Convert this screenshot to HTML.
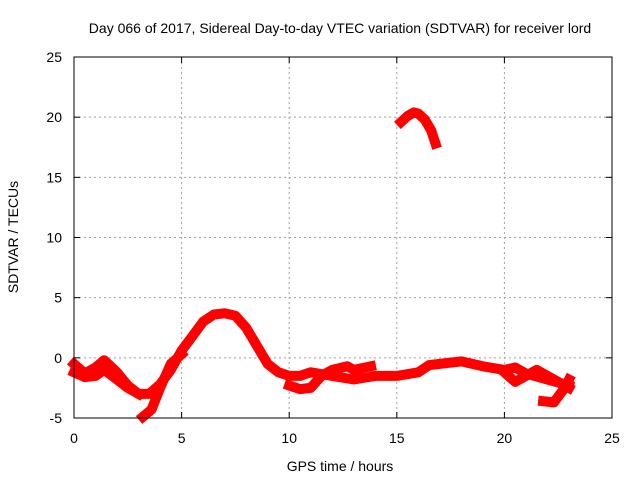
<!DOCTYPE html>
<html><head><meta charset="utf-8"><style>
body{margin:0;background:#fff}
svg text{font-family:"Liberation Sans",sans-serif;font-size:14px;fill:#000}
</style></head><body>
<svg id="chart" width="640" height="480">
<text x="340" y="33" text-anchor="middle">Day 066 of 2017, Sidereal Day-to-day VTEC variation (SDTVAR) for receiver lord</text>
<text x="340" y="471" text-anchor="middle">GPS time / hours</text>
<text transform="translate(18,237) rotate(-90)" text-anchor="middle">SDTVAR / TECUs</text>
<g id="grid"></g><g id="ticks"></g><g id="series"></g>
<rect x="74" y="57" width="538" height="361" fill="none" stroke="#000" stroke-width="1"/>
</svg>
<script>
const xTicks=[0,5,10,15,20,25];
const yTicks=[-5,0,5,10,15,20,25];
const traceMainX=[0,0.5,1,1.4,2,2.5,3,3.5,4,4.5,5,5.5,6,6.5,7,7.5,8,8.5,9,9.5,10,10.5,11,12,13,14,15,16,16.5,17,18,19,20,20.5,21,22,23];
const traceMainY=[-0.5,-1.3,-0.8,-0.2,-1.2,-2.3,-3.0,-3.0,-2.2,-1.0,0.6,1.8,3.0,3.6,3.7,3.5,2.5,1.0,-0.5,-1.2,-1.5,-1.5,-1.2,-1.5,-1.8,-1.5,-1.5,-1.2,-0.6,-0.5,-0.3,-0.7,-1.0,-0.8,-1.3,-1.8,-2.3];
const traceBX=[0,0.5,1,1.4,2,2.5,3];
const traceBY=[-1.2,-1.6,-1.5,-1.0,-1.8,-2.5,-3.0];
const traceCX=[3.2,3.6,4,4.5,5];
const traceCY=[-4.9,-4.3,-2.5,-0.5,0.3];
const traceDX=[10,10.5,11,11.5,12,12.7,13,13.8];
const traceDY=[-2.3,-2.6,-2.5,-1.5,-1.0,-0.7,-1.0,-0.7];
const traceEX=[20,20.5,21,21.5,22,23];
const traceEY=[-1.2,-2.0,-1.5,-1.0,-1.5,-2.5];
const traceFX=[21.8,22.3,22.8,23];
const traceFY=[-3.6,-3.7,-2.5,-1.8];
const traceGX=[15.2,15.5,15.8,16,16.3,16.6,16.8];
const traceGY=[19.6,20.1,20.4,20.3,19.8,18.9,17.8];
const X0=74,X1=612,Y0=418,Y1=57;
const sx=v=>X0+(v-0)/25*(X1-X0);
const sy=v=>Y0-(v+5)/30*(Y0-Y1);
const NS="http://www.w3.org/2000/svg";
const grid=document.getElementById('grid'),ticks=document.getElementById('ticks'),ser=document.getElementById('series');
function mk(tag,attrs,parent){const e=document.createElementNS(NS,tag);for(const k in attrs)e.setAttribute(k,attrs[k]);parent.appendChild(e);return e;}
xTicks.forEach(t=>{
  const x=sx(t);
  if(t>0&&t<25){const g=mk('line',{x1:x,x2:x,y1:Y1,y2:Y0,stroke:'#a0a0a0','stroke-dasharray':'2,3'},grid);
  
  }
  mk('line',{x1:x,x2:x,y1:Y0,y2:Y0-6,stroke:'#000'},ticks);
  mk('line',{x1:x,x2:x,y1:Y1,y2:Y1+6,stroke:'#000'},ticks);
  const l=mk('text',{x:x,y:443,'text-anchor':'middle'},ticks);l.textContent=t;
  
  
});
yTicks.forEach(t=>{
  const y=sy(t);
  if(t>-5&&t<25){const g=mk('line',{x1:X0,x2:X1,y1:y,y2:y,stroke:'#a0a0a0','stroke-dasharray':'2,3'},grid);
  
  }
  mk('line',{x1:X0,x2:X0+6,y1:y,y2:y,stroke:'#000'},ticks);
  mk('line',{x1:X1,x2:X1-6,y1:y,y2:y,stroke:'#000'},ticks);
  const l=mk('text',{x:62,y:y+5,'text-anchor':'end'},ticks);l.textContent=t;
  
  
});
[[traceMainX,traceMainY],[traceBX,traceBY],[traceCX,traceCY],[traceDX,traceDY],[traceEX,traceEY],[traceFX,traceFY],[traceGX,traceGY]].forEach(([xs,ys])=>{
  const pts=xs.map((x,i)=>sx(x).toFixed(1)+','+sy(ys[i]).toFixed(1)).join(' ');
  const p=mk('polyline',{points:pts,fill:'none',stroke:'#ff0000','stroke-width':10,'stroke-linejoin':'round','stroke-linecap':'square'},ser);
  
  
});
</script>
</body></html>
